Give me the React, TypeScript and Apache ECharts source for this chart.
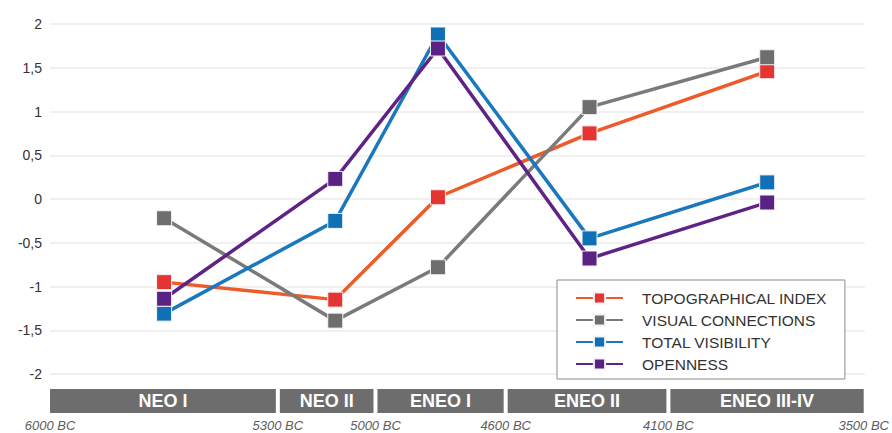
import React, { useEffect, useRef } from "react";
import * as echarts from "echarts";

// ---- data ----
const seriesNames = ["TOPOGRAPHICAL INDEX", "VISUAL CONNECTIONS", "TOTAL VISIBILITY", "OPENNESS"];
const pointYears = [-5650, -5125, -4810, -4345, -3800];
const topographical = [-0.95, -1.15, 0.02, 0.75, 1.46];
const visualConnections = [-0.22, -1.39, -0.78, 1.05, 1.62];
const totalVisibility = [-1.31, -0.25, 1.88, -0.45, 0.19];
const openness = [-1.14, 0.23, 1.72, -0.68, -0.04];
const periodLabels = ["NEO I", "NEO II", "ENEO I", "ENEO II", "ENEO III-IV"];
const periodStarts = [-6000, -5300, -5000, -4600, -4100];
const periodEnds = [-5300, -5000, -4600, -4100, -3500];
const dateTicks = [-6000, -5300, -5000, -4600, -4100, -3500];
const yTicks = { min: -2, max: 2, interval: 0.5 };

const lineColors = ["#ee5a2a", "#7a7a7a", "#1a78bd", "#5e2385"];
const markerColors = ["#e53532", "#6e6e6e", "#0f70b6", "#5b2286"];
const FONT = "'Liberation Sans', Arial, sans-serif";

export default function App() {
  const ref = useRef<HTMLDivElement>(null);
  useEffect(() => {
    document.body.style.margin = "0";
    const chart = echarts.init(ref.current!, null, { renderer: "svg" });
    const valuesList = [topographical, visualConnections, totalVisibility, openness];
    const lineSeries = seriesNames.map((name, i) => ({
      name,
      type: "line",
      xAxisIndex: 0,
      yAxisIndex: 0,
      data: pointYears.map((x, j) => [x, valuesList[i][j]]),
      symbol: "rect",
      symbolSize: 15,
      lineStyle: { color: lineColors[i], width: 3.5 },
      itemStyle: { color: markerColors[i], borderColor: "#f4f4f4", borderWidth: 1 },
      z: 3 + i,
    }));
    const periodData = periodLabels.map((l, i) => [periodStarts[i], periodEnds[i], l]);
    chart.setOption({
      animation: false,
      textStyle: { fontFamily: FONT },
      grid: [
        { left: 50, right: 27, top: 24, bottom: 59 },
        { left: 50, right: 27, top: 389, height: 24 },
      ],
      xAxis: [
        { type: "value", gridIndex: 0, min: -6000, max: -3500, show: false },
        {
          type: "value",
          gridIndex: 1,
          min: -6000,
          max: -3500,
          axisLine: { show: false },
          axisTick: { show: false },
          splitLine: { show: false },
          axisLabel: {
            customValues: dateTicks,
            formatter: (v: number) => `${-v} BC`,
            color: "#5e5e5e",
            fontSize: 13,
            fontStyle: "italic",
            fontFamily: FONT,
            margin: 6,
          },
        },
      ],
      yAxis: [
        {
          type: "value",
          gridIndex: 0,
          min: yTicks.min,
          max: yTicks.max,
          interval: yTicks.interval,
          axisLine: { show: false },
          axisTick: { show: false },
          splitLine: { lineStyle: { color: "#ebebeb", width: 1.5 } },
          axisLabel: {
            formatter: (v: number) => String(v).replace(".", ","),
            color: "#333",
            fontSize: 14,
            fontFamily: FONT,
            margin: 8,
          },
        },
        { type: "value", gridIndex: 1, min: 0, max: 1, show: false },
      ],
      legend: {
        orient: "vertical",
        left: 557,
        top: 280,
        padding: [10, 18, 7, 18],
        itemGap: 6,
        itemWidth: 47,
        itemHeight: 14,
        backgroundColor: "#fff",
        borderColor: "#8a8a8a",
        borderWidth: 1,
        data: seriesNames,
        textStyle: { color: "#333", fontSize: 15.5, fontFamily: FONT, padding: [0, 0, 0, 14] },
      },
      series: [
        ...lineSeries,
        {
          type: "custom",
          xAxisIndex: 1,
          yAxisIndex: 1,
          data: periodData,
          encode: { x: [0, 1] },
          renderItem: (params: any, api: any) => {
            const cs = params.coordSys;
            const x0 = api.coord([api.value(0), 0])[0];
            const x1 = api.coord([api.value(1), 0])[0];
            const gapL = params.dataIndex === 0 ? 0 : 2;
            const gapR = params.dataIndex === periodData.length - 1 ? 0 : 2;
            return {
              type: "rect",
              shape: { x: x0 + gapL, y: cs.y, width: x1 - x0 - gapL - gapR, height: cs.height },
              style: { fill: "#6d6d6d" },
              textContent: {
                style: {
                  text: periodData[params.dataIndex][2] as string,
                  fill: "#fff",
                  font: `bold 18px ${FONT}`,
                },
              },
              textConfig: { position: "inside" },
            };
          },
        },
      ],
    });
    return () => chart.dispose();
  }, []);
  return <div ref={ref} style={{ width: 892, height: 433 }} />;
}
